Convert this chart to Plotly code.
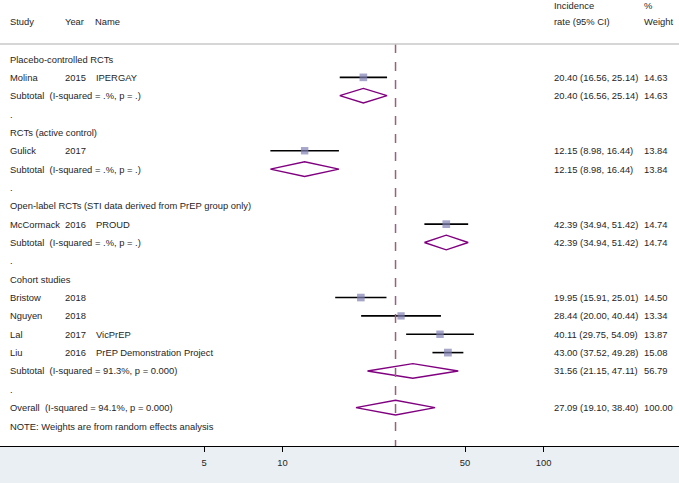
import plotly.graph_objects as go
import math

# ---------------- data ----------------
row_labels = [
    "Placebo-controlled RCTs",
    "Molina", "Subtotal  (I-squared = .%, p = .)", ".",
    "RCTs (active control)",
    "Gulick", "Subtotal  (I-squared = .%, p = .)", ".",
    "Open-label RCTs (STI data derived from PrEP group only)",
    "McCormack", "Subtotal  (I-squared = .%, p = .)", ".",
    "Cohort studies",
    "Bristow", "Nguyen", "Lal", "Liu",
    "Subtotal  (I-squared = 91.3%, p = 0.000)", ".",
    "Overall  (I-squared = 94.1%, p = 0.000)",
    "NOTE: Weights are from random effects analysis",
]
row_years = ["", "2015", "", "", "", "2017", "", "", "", "2016", "", "", "",
             "2018", "2018", "2017", "2016", "", "", "", ""]
row_names = ["", "IPERGAY", "", "", "", "", "", "", "", "PROUD", "", "", "",
             "", "", "VicPrEP", "PrEP Demonstration Project", "", "", "", ""]

# individual studies
study_rows = [1, 5, 9, 13, 14, 15, 16]
study_est = [20.40, 12.15, 42.39, 19.95, 28.44, 40.11, 43.00]
study_lo = [16.56, 8.98, 34.94, 15.91, 20.00, 29.75, 37.52]
study_hi = [25.14, 16.44, 51.42, 25.01, 40.44, 54.09, 49.28]
study_w = [14.63, 13.84, 14.74, 14.50, 13.34, 13.87, 15.08]

# pooled estimates (diamonds)
pool_rows = [2, 6, 10, 17, 19]
pool_est = [20.40, 12.15, 42.39, 31.56, 27.09]
pool_lo = [16.56, 8.98, 34.94, 21.15, 19.10]
pool_hi = [25.14, 16.44, 51.42, 47.11, 38.40]
pool_w = [14.63, 13.84, 14.74, 56.79, 100.00]

overall_est = 27.09
tick_vals = [5, 10, 50, 100]
tick_text = ["5", "10", "50", "100"]

# ---------------- figure ----------------
W, H = 679, 483
FONT = "Arial, Liberation Sans, Helvetica, sans-serif"
TXT = "#262626"
FS = 9.4
fig = go.Figure()

# CI lines
for r, lo, hi in zip(study_rows, study_lo, study_hi):
    fig.add_trace(go.Scatter(x=[lo, hi], y=[r, r], mode="lines",
                             line=dict(color="black", width=1.6),
                             hoverinfo="skip", showlegend=False))
# boxes
fig.add_trace(go.Scatter(x=study_est, y=study_rows, mode="markers",
                         marker=dict(symbol="square", color="#8080b4",
                                     size=[2.0 * math.sqrt(w) for w in study_w],
                                     line=dict(width=0)),
                         hoverinfo="skip", showlegend=False))
# diamonds
dh = 0.4
for r, e, lo, hi in zip(pool_rows, pool_est, pool_lo, pool_hi):
    fig.add_trace(go.Scatter(x=[lo, e, hi, e, lo], y=[r, r - dh, r, r + dh, r],
                             mode="lines", line=dict(color="#800080", width=1.4),
                             hoverinfo="skip", showlegend=False))

# dashed overall line
fig.add_shape(type="line", xref="x", yref="y", x0=overall_est, x1=overall_est,
              y0=-0.82, y1=21.2, line=dict(color="#9c6078", width=1.5, dash="dash"))
# header separator
fig.add_shape(type="line", xref="paper", yref="y", x0=0, x1=1, y0=-0.82, y1=-0.82,
              line=dict(color="#c8c8c8", width=1.5))

def px(xp):
    return xp / W

def ann(x, y, t):
    fig.add_annotation(x=px(x), y=y, xref="paper", yref="y", text=t,
                       showarrow=False, xanchor="left", yanchor="middle",
                       font=dict(family=FONT, size=FS, color=TXT))

# headers
ann(8, -2.02, "Study")
ann(63, -2.02, "Year")
ann(93, -2.02, "Name")
ann(552, -2.93, "Incidence")
ann(552, -2.02, "rate (95% CI)")
ann(642, -2.93, "%")
ann(642, -2.02, "Weight")

for i, lab in enumerate(row_labels):
    ann(8, i, lab)
    if row_years[i]:
        ann(63, i, row_years[i])
    if row_names[i]:
        ann(94, i, row_names[i])

def fmt(e, lo, hi):
    return f"{e:.2f} ({lo:.2f}, {hi:.2f})"

for r, e, lo, hi, w in zip(study_rows, study_est, study_lo, study_hi, study_w):
    ann(552, r, fmt(e, lo, hi))
    ann(642, r, f"{w:.2f}")
for r, e, lo, hi, w in zip(pool_rows, pool_est, pool_lo, pool_hi, pool_w):
    ann(552, r, fmt(e, lo, hi))
    ann(642, r, f"{w:.2f}")

L = math.log10(5) - 204 / 261.0
R = L + W / 261.0
fig.update_xaxes(type="log", range=[L, R], tickvals=tick_vals, ticktext=tick_text,
                 ticks="outside", ticklen=5, tickwidth=1, tickcolor="black",
                 ticklabelstandoff=3,
                 showline=True, linecolor="black", linewidth=1.2,
                 showgrid=False, zeroline=False,
                 tickfont=dict(family=FONT, size=FS, color=TXT))
fig.update_yaxes(range=[21.09, -3.215], visible=False, showgrid=False, zeroline=False)

fig.update_layout(width=W, height=H, margin=dict(l=0, r=0, t=0, b=37),
                  paper_bgcolor="#e9eff2", plot_bgcolor="white",
                  showlegend=False)

fig.write_html("out.html", config={"displayModeBar": False},
               post_script="document.body.style.margin='0';document.body.style.overflow='hidden';")
